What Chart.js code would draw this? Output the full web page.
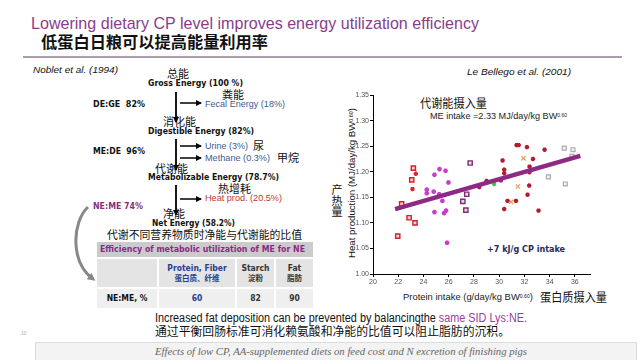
<!DOCTYPE html>
<html>
<head>
<meta charset="utf-8">
<script src="https://cdn.jsdelivr.net/npm/chart.js"></script>
<style>
  body { margin: 0; width: 640px; height: 360px; position: relative; overflow: hidden; background: #fff;
         font-family: "Liberation Sans", Arial, sans-serif; color: #111; }
  .t { position: absolute; white-space: nowrap; line-height: 1; transform-origin: 0 50%; }
  .cn { font-family: "Noto Sans CJK SC", sans-serif; }
  .b { font-weight: bold; font-family: "DejaVu Sans Condensed", "DejaVu Sans", sans-serif; }
  .nar { font-family: "Liberation Sans Narrow", "Liberation Sans", sans-serif; }
  .blue { color: #3d5a8e; }
  sup { font-size: 55%; vertical-align: 0.5em; line-height: 0; }
  .cell { position: absolute; display: flex; flex-direction: column; align-items: center; justify-content: center;
          font-family: "DejaVu Sans Condensed", "DejaVu Sans", sans-serif; line-height: 1.15; }
  #chartBox { position: absolute; left: 330px; top: 88px; }
</style>
</head>
<body>

<svg width="640" height="360" style="position:absolute;left:0;top:0">
  <defs>
    <marker id="ah" markerWidth="6" markerHeight="6" refX="5" refY="3" orient="auto" markerUnits="userSpaceOnUse">
      <path d="M0,0 L6,3 L0,6 z" fill="#000"/>
    </marker>
    <marker id="ahg" markerWidth="8" markerHeight="8" refX="5" refY="4" orient="auto" markerUnits="userSpaceOnUse">
      <path d="M0,0 L8,4 L0,8 z" fill="#888"/>
    </marker>
  </defs>
  <line x1="23" y1="57" x2="622" y2="57" stroke="#5a3a5a" stroke-width="1.2"/>
  <!-- flow arrows -->
  <line x1="176" y1="92" x2="176" y2="122" stroke="#000" stroke-width="1.8" marker-end="url(#ah)"/>
  <line x1="176" y1="139" x2="176" y2="170" stroke="#000" stroke-width="1.8" marker-end="url(#ah)"/>
  <line x1="176" y1="185" x2="176" y2="215" stroke="#000" stroke-width="1.8" marker-end="url(#ah)"/>
  <line x1="180" y1="103" x2="201" y2="103" stroke="#000" stroke-width="1.5" marker-end="url(#ah)"/>
  <line x1="180" y1="146" x2="201" y2="146" stroke="#000" stroke-width="1.5" marker-end="url(#ah)"/>
  <line x1="180" y1="158" x2="201" y2="158" stroke="#000" stroke-width="1.5" marker-end="url(#ah)"/>
  <line x1="180" y1="199" x2="201" y2="199" stroke="#000" stroke-width="1.5" marker-end="url(#ah)"/>
  <path d="M88,207 C72,222 70,262 93,279" fill="none" stroke="#888" stroke-width="3" marker-end="url(#ahg)"/>
</svg>

<!-- header -->
<div class="t nar" data-x="31" data-cy="23" data-w="448" style="font-size:17px;color:#8b3c8b">Lowering dietary CP level improves energy utilization efficiency</div>
<div class="t cn" data-x="41" data-cy="41" data-w="227" style="font-size:16px;font-weight:bold">低蛋白日粮可以提高能量利用率</div>

<!-- flow chart -->
<div class="t" data-x="33" data-cy="70" data-w="85" style="font-size:9px;font-style:italic">Noblet et al. (1994)</div>
<div class="t cn" data-x="167" data-cy="73" style="font-size:11px">总能</div>
<div class="t b" data-x="148" data-cy="83" data-w="95" style="font-size:8.5px">Gross Energy (100 %)</div>
<div class="t cn" data-x="222" data-cy="94" style="font-size:11px">粪能</div>
<div class="t b" data-x="93" data-cy="104" data-w="52" style="font-size:8.5px">DE:GE&nbsp; 82%</div>
<div class="t blue" data-x="205" data-cy="104" data-w="80" style="font-size:8.5px">Fecal Energy (18%)</div>
<div class="t cn" data-x="163" data-cy="121" style="font-size:11px">消化能</div>
<div class="t b" data-x="148" data-cy="131" data-w="106" style="font-size:8.5px">Digestible Energy (82%)</div>
<div class="t blue" data-x="205" data-cy="146" data-w="43" style="font-size:8.5px">Urine (3%)</div>
<div class="t cn" data-x="253" data-cy="145" style="font-size:11px">尿</div>
<div class="t b" data-x="93" data-cy="151" data-w="52" style="font-size:8.5px">ME:DE&nbsp; 96%</div>
<div class="t blue" data-x="205" data-cy="158" data-w="65" style="font-size:8.5px">Methane (0.3%)</div>
<div class="t cn" data-x="277" data-cy="157" style="font-size:11px">甲烷</div>
<div class="t cn" data-x="155" data-cy="168" style="font-size:11px">代谢能</div>
<div class="t b" data-x="148" data-cy="177" data-w="131" style="font-size:8.5px">Metabolizable Energy (78.7%)</div>
<div class="t cn" data-x="218" data-cy="188" style="font-size:11px">热增耗</div>
<div class="t" data-x="205" data-cy="198" data-w="77" style="font-size:8.5px;color:#c0392b">Heat prod. (20.5%)</div>
<div class="t b" data-x="93" data-cy="206" data-w="50" style="font-size:8.5px;color:#8b2f7d">NE:ME 74%</div>
<div class="t cn" data-x="163" data-cy="213" style="font-size:11px">净能</div>
<div class="t b" data-x="152" data-cy="223" data-w="83" style="font-size:8.5px">Net Energy (58.2%)</div>
<div class="t cn" data-x="107" data-cy="234" data-w="195" style="font-size:11px">代谢不同营养物质时净能与代谢能的比值</div>

<!-- table -->
<div class="cell" style="left:97px;top:242px;width:216px;height:15px;background:#cbcbcb;align-items:flex-start">
  <span id="tblHead" style="font-size:8.5px;font-weight:bold;color:#8b2a86;margin-left:3px;transform-origin:0 50%;white-space:nowrap">Efficiency of metabolic utilization of ME for NE</span>
</div>
<div class="cell" style="left:97px;top:259px;width:60px;height:28px;background:#e4e4e4"></div>
<div class="cell" style="left:159px;top:259px;width:76px;height:28px;background:#e4e4e4;color:#283f8c">
  <span style="font-size:8.5px;font-weight:bold">Protein, Fiber</span><span class="cn" style="font-size:7.5px;font-weight:bold">蛋白质、纤维</span></div>
<div class="cell" style="left:237px;top:259px;width:37px;height:28px;background:#e4e4e4;color:#333">
  <span style="font-size:8.5px;font-weight:bold">Starch</span><span class="cn" style="font-size:7.5px;font-weight:bold">淀粉</span></div>
<div class="cell" style="left:276px;top:259px;width:37px;height:28px;background:#e4e4e4;color:#333">
  <span style="font-size:8.5px;font-weight:bold">Fat</span><span class="cn" style="font-size:7.5px;font-weight:bold">脂肪</span></div>
<div class="cell" style="left:97px;top:289px;width:60px;height:19px;background:#efefef;font-weight:bold;font-size:8.5px">NE:ME, %</div>
<div class="cell" style="left:159px;top:289px;width:76px;height:19px;background:#efefef;font-weight:bold;font-size:8.5px;color:#283f8c">60</div>
<div class="cell" style="left:237px;top:289px;width:37px;height:19px;background:#efefef;font-weight:bold;font-size:8.5px;color:#333">82</div>
<div class="cell" style="left:276px;top:289px;width:37px;height:19px;background:#efefef;font-weight:bold;font-size:8.5px;color:#333">90</div>

<!-- chart texts -->
<div class="t" data-x="467" data-cy="72" data-w="104" style="font-size:9px;font-style:italic">Le Bellego et al. (2001)</div>
<div class="t cn" data-x="420" data-cy="103" data-w="67" style="font-size:12px">代谢能摄入量</div>
<div class="t" data-x="430" data-cy="116" data-w="137" style="font-size:8.5px;color:#222">ME intake =2.33 MJ/day/kg BW<sup>0.60</sup></div>
<div class="t b" data-x="487" data-cy="249" data-w="78" style="font-size:9px;color:#28285a">+7 kJ/g CP intake</div>
<div id="yTitle" class="t" style="font-size:8.5px;left:352px;top:183px;transform-origin:0 0">Heat production (MJ/day/kg BW<sup>0.60</sup>)</div>
<div class="t cn" style="left:331px;top:184px;font-size:11px;writing-mode:vertical-rl;line-height:1">产热量</div>
<div class="t" data-x="403" data-cy="297" data-w="130" style="font-size:8.5px;color:#222">Protein intake (g/day/kg BW<sup>0.60</sup>)</div>
<div class="t cn" data-x="540" data-cy="297" data-w="67" style="font-size:12px">蛋白质摄入量</div>

<div id="chartBox"><canvas id="scatter" width="270" height="205"></canvas></div>

<!-- footer -->
<div class="t nar" data-x="155" data-cy="318" data-w="372" style="font-size:12px">Increased fat deposition can be prevented by balancingthe <span style="color:#9b3b9b">same SID Lys:NE.</span></div>
<div class="t cn" data-x="155" data-cy="331" data-w="355" style="font-size:12px">通过平衡回肠标准可消化赖氨酸和净能的比值可以阻止脂肪的沉积。</div>
<div class="t" data-x="21" data-cy="333" style="font-size:5px;color:#aaa">10</div>
<div style="position:absolute;left:35px;top:342px;width:600px;height:24px;background:#f3f3f3;border:1px solid #dcdcdc"></div>
<div class="t" data-x="155" data-cy="352" data-w="372" style="font-size:10px;font-style:italic;color:#666;font-family:'Liberation Serif',serif">Effects of low CP, AA-supplemented diets on feed cost and N excretion of finishing pigs</div>

<script>
// protein intake (g/day/kg BW^0.60), heat production (MJ/day/kg BW^0.60)
const redSquares = [[23.2, 1.207], [23.07, 1.184], [22.27, 1.137], [22.86, 1.110], [23.33, 1.100], [21.96, 1.074]];
const redStars = [[23.39, 1.196], [23.13, 1.166]];
const magentaStars = [[25.27, 1.205], [25.75, 1.202], [24.87, 1.194], [25.98, 1.179], [24.26, 1.165], [24.26, 1.158],
  [24.81, 1.161], [25.24, 1.156], [25.5, 1.143], [24.87, 1.121], [25.63, 1.119], [25.79, 1.124], [25.87, 1.061]];
const purpleSquares = [[27.7, 1.217], [27.43, 1.156], [27.12, 1.142], [27.36, 1.125]];
const darkRedStars = [[28.42, 1.170], [29.0, 1.182], [30.13, 1.183], [30.27, 1.222], [30.4, 1.204], [30.4, 1.197],
  [30.4, 1.127], [30.66, 1.143], [31.33, 1.143], [31.38, 1.252], [31.55, 1.252], [32.2, 1.248], [32.68, 1.225],
  [32.41, 1.210], [32.4, 1.199], [32.38, 1.173], [32.25, 1.155], [33.12, 1.124], [33.6, 1.243]];
const orangeCrosses = [[31.93, 1.226], [31.48, 1.171], [30.95, 1.141]];
const graySquares = [[35.16, 1.246], [35.85, 1.243], [35.77, 1.230], [33.9, 1.190], [35.24, 1.176]];
const greenStars = [[29.6, 1.176]];
const trendX = [21.75, 36.43];
const trendY = [1.127, 1.231];
const xTicks = [20, 22, 24, 26, 28, 30, 32, 34, 36];
const yTicks = [1.00, 1.05, 1.10, 1.15, 1.20, 1.25, 1.30, 1.35];

function pts(arr) {
  return arr.map((p) => ({ x: p[0], y: p[1] }));
}

function placeTexts() {
  document.querySelectorAll(".t[data-x]").forEach((el) => {
    el.style.left = el.dataset.x + "px";
    el.style.top = (+el.dataset.cy - el.offsetHeight / 2) + "px";
    if (el.dataset.w) {
      const w = el.getBoundingClientRect().width;
      el.style.transform = "scaleX(" + (+el.dataset.w / w) + ")";
    }
  });
  const head = document.getElementById("tblHead");
  head.style.transform = "scaleX(" + (205 / head.getBoundingClientRect().width) + ")";
  // rotated y title, centred on x=352, y=183
  const yt = document.getElementById("yTitle");
  const w = yt.offsetWidth, h = yt.offsetHeight;
  const s = 150 / w;
  yt.style.left = (352 - h / 2) + "px";
  yt.style.top = (183 + (w * s) / 2) + "px";
  yt.style.transform = "rotate(-90deg) scaleX(" + s + ")";
}

const tickFont = { family: "Liberation Sans", size: 7 };

new Chart(document.getElementById("scatter").getContext("2d"), {
  type: "scatter",
  data: {
    datasets: [
      { type: "line", data: trendX.map((x, i) => ({ x: x, y: trendY[i] })), borderColor: "#8e2a86",
        borderWidth: 4.5, pointRadius: 0, fill: false },
      { data: pts(graySquares), pointStyle: "rect", pointRadius: 2.8, borderColor: "#aaaaaa", backgroundColor: "#f4f4f4", borderWidth: 1.2 },
      { data: pts(redSquares), pointStyle: "rect", pointRadius: 3, borderColor: "#d42027", backgroundColor: "#f6d0d0", borderWidth: 1.4 },
      { data: pts(purpleSquares), pointStyle: "rect", pointRadius: 3, borderColor: "#7d2f72", backgroundColor: "#e8d8e6", borderWidth: 1.4 },
      { data: pts(redStars), pointStyle: "star", pointRadius: 2.2, borderColor: "#d42a2a", borderWidth: 1.5 },
      { data: pts(magentaStars), pointStyle: "star", pointRadius: 2.3, borderColor: "#cc3ccc", borderWidth: 1.6 },
      { data: pts(darkRedStars), pointStyle: "star", pointRadius: 2.2, borderColor: "#b31d34", borderWidth: 1.6 },
      { data: pts(orangeCrosses), pointStyle: "crossRot", pointRadius: 3, borderColor: "#e0a060", borderWidth: 1.2 },
      { data: pts(greenStars), pointStyle: "star", pointRadius: 2.2, borderColor: "#4cc050", borderWidth: 1.6 },
    ],
  },
  options: {
    responsive: false,
    animation: false,
    devicePixelRatio: 1,
    layout: { padding: { top: 7, right: 10, left: 0, bottom: 0 } },
    plugins: { legend: { display: false }, tooltip: { enabled: false } },
    scales: {
      x: {
        type: "linear",
        min: 20,
        max: 37.2,
        afterBuildTicks: (scale) => { scale.ticks = xTicks.map((v) => ({ value: v })); },
        afterFit: (scale) => { scale.height = 19; },
        grid: { drawOnChartArea: false, tickLength: 3, color: "#000" },
        border: { color: "#000", width: 1 },
        ticks: { font: tickFont, color: "#555", padding: 1, maxRotation: 0, autoSkip: false },
      },
      y: {
        min: 1.0,
        max: 1.35,
        afterBuildTicks: (scale) => { scale.ticks = yTicks.map((v) => ({ value: v })); },
        afterFit: (scale) => { scale.width = 43; },
        grid: { drawOnChartArea: false, tickLength: 3, color: "#000" },
        border: { color: "#000", width: 1 },
        ticks: { font: tickFont, color: "#555", padding: 1, autoSkip: false,
                 callback: (value) => value.toFixed(2) },
      },
    },
  },
});

if (document.fonts && document.fonts.ready) {
  document.fonts.ready.then(placeTexts);
} else {
  placeTexts();
}
</script>
</body>
</html>
